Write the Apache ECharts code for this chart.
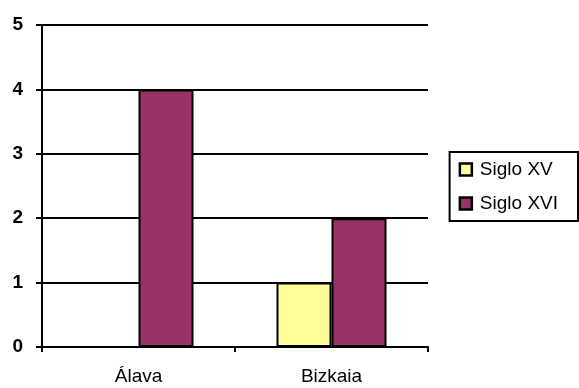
<!DOCTYPE html>
<html><head><meta charset="utf-8">
<script src="https://cdn.jsdelivr.net/npm/echarts@6/dist/echarts.min.js"></script>
<style>html,body{margin:0;padding:0;background:#fff}#c{width:579px;height:388px}</style>
</head><body><div id="c"></div>
<script>
const categories = ['Álava', 'Bizkaia'];
const sigloXV = [0, 1];
const sigloXVI = [4, 2];
const seriesNames = ['Siglo XV', 'Siglo XVI'];
const yTicks = [0, 1, 2, 3, 4, 5];

const chart = echarts.init(document.getElementById('c'), null, {renderer: 'canvas'});
const font = '"Liberation Sans", Arial, sans-serif';
chart.setOption({
  animation: false,
  grid: {left: 42, right: 151, top: 25, bottom: 41},
  legend: {
    orient: 'vertical', right: 1, top: 152,
    data: seriesNames,
    borderColor: '#000', borderWidth: 2, padding: [8, 20, 8, 9],
    itemWidth: 12, itemHeight: 12, itemGap: 15,
    icon: 'rect',
    itemStyle: {borderColor: '#000', borderWidth: 2.5},
    textStyle: {fontFamily: font, fontSize: 19, color: '#000', padding: [0, 0, 0, 3]}
  },
  xAxis: {
    type: 'category', data: categories,
    axisLine: {lineStyle: {color: '#000', width: 2}},
    axisTick: {show: true, length: 5, lineStyle: {color: '#000', width: 2}},
    axisLabel: {fontFamily: font, fontSize: 19, color: '#000', margin: 20}
  },
  yAxis: {
    type: 'value', min: 0, max: 5, interval: 1,
    axisLine: {show: true, lineStyle: {color: '#000', width: 2}},
    axisTick: {show: true, length: 6, lineStyle: {color: '#000', width: 2}},
    splitLine: {lineStyle: {color: '#000', width: 2}},
    axisLabel: {fontFamily: font, fontSize: 19, fontWeight: 'bold', color: '#000', margin: 19,
      formatter: v => yTicks.includes(v) ? String(v) : ''}
  },
  series: [
    {name: seriesNames[0], type: 'bar', data: sigloXV, barGap: 0, barCategoryGap: '43%',
     itemStyle: {color: '#FFFF99', borderColor: '#000', borderWidth: 2}},
    {name: seriesNames[1], type: 'bar', data: sigloXVI, barGap: 0, barCategoryGap: '43%',
     itemStyle: {color: '#993366', borderColor: '#000', borderWidth: 2}}
  ]
});
</script></body></html>
